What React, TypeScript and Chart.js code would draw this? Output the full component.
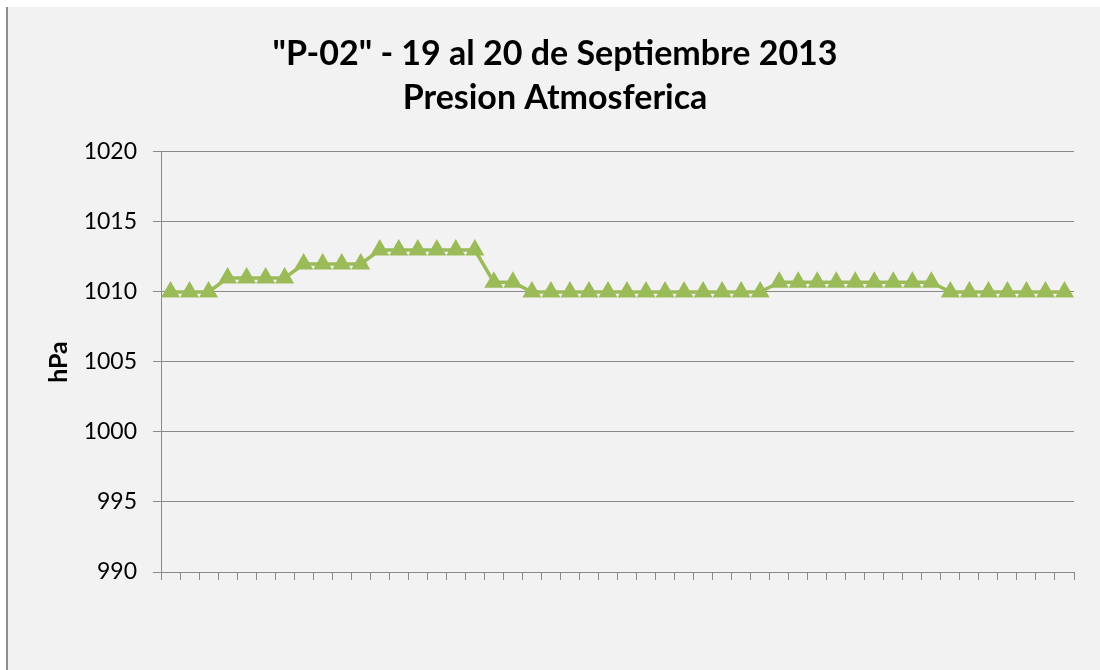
import React, { useEffect, useRef } from "react";
import { Chart, registerables } from "chart.js";

Chart.register(...registerables);

const titleLines = ['"P-02" - 19 al 20 de Septiembre 2013', "Presion Atmosferica"];
const yAxisTitle = "hPa";
const yMin = 990;
const yMax = 1020;
const yStep = 5;

// 48 readings (no visible category labels in the reference)
const pressure = [
  1010, 1010, 1010,
  1011, 1011, 1011, 1011,
  1012, 1012, 1012, 1012,
  1013, 1013, 1013, 1013, 1013, 1013,
  1010.7, 1010.7,
  1010, 1010, 1010, 1010, 1010, 1010, 1010, 1010, 1010, 1010, 1010, 1010, 1010,
  1010.7, 1010.7, 1010.7, 1010.7, 1010.7, 1010.7, 1010.7, 1010.7, 1010.7,
  1010, 1010, 1010, 1010, 1010, 1010, 1010,
];
const categories = pressure.map((_, i) => String(i + 1));

const FONT = "Lato, 'Open Sans', sans-serif";
const GRID = "#898989";
const GREEN = "#9bbb59";

export default function App() {
  const ref = useRef<HTMLCanvasElement | null>(null);

  useEffect(() => {
    if (!ref.current) return;
    const chart = new Chart(ref.current, {
      type: "line",
      data: {
        labels: categories,
        datasets: [
          {
            data: pressure,
            borderColor: GREEN,
            backgroundColor: GREEN,
            borderWidth: 3.5,
            pointStyle: "triangle",
            pointRadius: 9,
            pointBorderWidth: 2,
            pointBorderColor: GREEN,
            pointBackgroundColor: GREEN,
            tension: 0,
          },
        ],
      },
      options: {
        animation: false,
        responsive: false,
        layout: { padding: { left: 36, right: 26, top: 0, bottom: 0 } },
        plugins: {
          legend: { display: false },
          tooltip: { enabled: false },
          title: {
            display: true,
            text: titleLines,
            color: "#000",
            font: { family: FONT, size: 34, weight: "bold", lineHeight: 1.294 },
            padding: { top: 32, bottom: 32 },
          },
        },
        scales: {
          x: {
            offset: true,
            grid: {
              offset: true,
              drawOnChartArea: false,
              drawTicks: true,
              tickLength: 8,
              color: GRID,
              lineWidth: 1,
            },
            border: { display: true, color: GRID, width: 1 },
            ticks: { display: false },
            afterFit: (scale: any) => {
              scale.height = 98;
            },
          },
          y: {
            min: yMin,
            max: yMax,
            ticks: {
              stepSize: yStep,
              color: "#000",
              padding: 16,
              font: { family: FONT, size: 23 },
              callback: (v: any) => String(v),
            },
            grid: {
              color: GRID,
              lineWidth: 1,
              tickLength: 8,
              drawTicks: true,
            },
            border: { display: true, color: GRID, width: 1 },
            title: {
              display: true,
              text: yAxisTitle,
              color: "#000",
              font: { family: FONT, size: 25, weight: "bold", lineHeight: 1.2 },
              padding: { top: 8, bottom: 0 },
            },
            afterFit: (scale: any) => {
              scale.width = 125;
            },
          },
        },
      },
    });
    return () => chart.destroy();
  }, []);

  return (
    <div
      style={{
        position: "absolute",
        left: 0,
        top: 0,
        width: 1100,
        height: 670,
        background: "#ffffff",
        overflow: "hidden",
      }}
    >
      <div
        style={{
          position: "absolute",
          left: 6,
          top: 7,
          width: 1094,
          height: 663,
          background: "#f2f2f2",
          borderLeft: "2px solid #8d8d8d",
        }}
      />
      <canvas
        ref={ref}
        width={1100}
        height={670}
        style={{ position: "absolute", left: 0, top: 0 }}
      />
    </div>
  );
}
